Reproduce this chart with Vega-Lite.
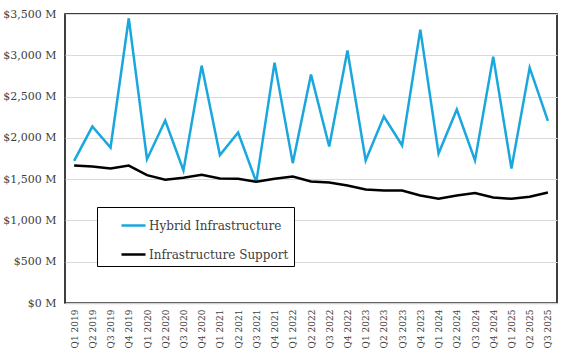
{
  "$schema": "https://vega.github.io/schema/vega-lite/v6.json",
  "width": 492,
  "height": 289,
  "autosize": {"type": "none"},
  "padding": {"left": 65, "top": 14, "right": 8, "bottom": 51},
  "background": "white",
  "config": {
    "view": {"stroke": "black", "strokeWidth": 1.5},
    "font": "DejaVu Serif"
  },
  "data": {
    "values": [
      {"q": "Q1 2019", "s": "Hybrid Infrastructure", "v": 1722},
      {"q": "Q2 2019", "s": "Hybrid Infrastructure", "v": 2137},
      {"q": "Q3 2019", "s": "Hybrid Infrastructure", "v": 1883},
      {"q": "Q4 2019", "s": "Hybrid Infrastructure", "v": 3448},
      {"q": "Q1 2020", "s": "Hybrid Infrastructure", "v": 1742},
      {"q": "Q2 2020", "s": "Hybrid Infrastructure", "v": 2210},
      {"q": "Q3 2020", "s": "Hybrid Infrastructure", "v": 1605},
      {"q": "Q4 2020", "s": "Hybrid Infrastructure", "v": 2875},
      {"q": "Q1 2021", "s": "Hybrid Infrastructure", "v": 1791},
      {"q": "Q2 2021", "s": "Hybrid Infrastructure", "v": 2064},
      {"q": "Q3 2021", "s": "Hybrid Infrastructure", "v": 1464},
      {"q": "Q4 2021", "s": "Hybrid Infrastructure", "v": 2911},
      {"q": "Q1 2022", "s": "Hybrid Infrastructure", "v": 1694},
      {"q": "Q2 2022", "s": "Hybrid Infrastructure", "v": 2766},
      {"q": "Q3 2022", "s": "Hybrid Infrastructure", "v": 1895},
      {"q": "Q4 2022", "s": "Hybrid Infrastructure", "v": 3057},
      {"q": "Q1 2023", "s": "Hybrid Infrastructure", "v": 1726},
      {"q": "Q2 2023", "s": "Hybrid Infrastructure", "v": 2258},
      {"q": "Q3 2023", "s": "Hybrid Infrastructure", "v": 1907},
      {"q": "Q4 2023", "s": "Hybrid Infrastructure", "v": 3311},
      {"q": "Q1 2024", "s": "Hybrid Infrastructure", "v": 1810},
      {"q": "Q2 2024", "s": "Hybrid Infrastructure", "v": 2343},
      {"q": "Q3 2024", "s": "Hybrid Infrastructure", "v": 1726},
      {"q": "Q4 2024", "s": "Hybrid Infrastructure", "v": 2984},
      {"q": "Q1 2025", "s": "Hybrid Infrastructure", "v": 1629},
      {"q": "Q2 2025", "s": "Hybrid Infrastructure", "v": 2851},
      {"q": "Q3 2025", "s": "Hybrid Infrastructure", "v": 2206},
      {"q": "Q1 2019", "s": "Infrastructure Support", "v": 1665},
      {"q": "Q2 2019", "s": "Infrastructure Support", "v": 1653},
      {"q": "Q3 2019", "s": "Infrastructure Support", "v": 1629},
      {"q": "Q4 2019", "s": "Infrastructure Support", "v": 1665},
      {"q": "Q1 2020", "s": "Infrastructure Support", "v": 1549},
      {"q": "Q2 2020", "s": "Infrastructure Support", "v": 1492},
      {"q": "Q3 2020", "s": "Infrastructure Support", "v": 1516},
      {"q": "Q4 2020", "s": "Infrastructure Support", "v": 1552},
      {"q": "Q1 2021", "s": "Infrastructure Support", "v": 1508},
      {"q": "Q2 2021", "s": "Infrastructure Support", "v": 1504},
      {"q": "Q3 2021", "s": "Infrastructure Support", "v": 1468},
      {"q": "Q4 2021", "s": "Infrastructure Support", "v": 1504},
      {"q": "Q1 2022", "s": "Infrastructure Support", "v": 1532},
      {"q": "Q2 2022", "s": "Infrastructure Support", "v": 1471},
      {"q": "Q3 2022", "s": "Infrastructure Support", "v": 1459},
      {"q": "Q4 2022", "s": "Infrastructure Support", "v": 1423},
      {"q": "Q1 2023", "s": "Infrastructure Support", "v": 1375},
      {"q": "Q2 2023", "s": "Infrastructure Support", "v": 1362},
      {"q": "Q3 2023", "s": "Infrastructure Support", "v": 1362},
      {"q": "Q4 2023", "s": "Infrastructure Support", "v": 1302},
      {"q": "Q1 2024", "s": "Infrastructure Support", "v": 1262},
      {"q": "Q2 2024", "s": "Infrastructure Support", "v": 1302},
      {"q": "Q3 2024", "s": "Infrastructure Support", "v": 1331},
      {"q": "Q4 2024", "s": "Infrastructure Support", "v": 1278},
      {"q": "Q1 2025", "s": "Infrastructure Support", "v": 1262},
      {"q": "Q2 2025", "s": "Infrastructure Support", "v": 1286},
      {"q": "Q3 2025", "s": "Infrastructure Support", "v": 1338}
    ]
  },
  "mark": {"type": "line", "strokeWidth": 2.5, "strokeJoin": "miter"},
  "encoding": {
    "x": {
      "field": "q",
      "type": "ordinal",
      "sort": null,
      "scale": {"type": "point", "padding": 0.5},
      "axis": {
        "title": null,
        "labelAngle": -90,
        "labelFont": "DejaVu Serif",
        "labelFontSize": 9,
        "labelColor": "#404040",
        "labelPadding": 6,
        "ticks": false,
        "domain": true,
        "domainColor": "#d0d0d0",
        "domainWidth": 1.5,
        "grid": false
      }
    },
    "y": {
      "field": "v",
      "type": "quantitative",
      "scale": {"domain": [0, 3500], "nice": false},
      "axis": {
        "title": null,
        "values": [0, 500, 1000, 1500, 2000, 2500, 3000, 3500],
        "labelExpr": "'$' + format(datum.value, ',') + ' M'",
        "labelFont": "DejaVu Serif",
        "labelFontSize": 11,
        "labelColor": "#404040",
        "labelPadding": 9,
        "ticks": false,
        "domain": false,
        "grid": true,
        "gridColor": "#d9d9d9",
        "gridWidth": 1
      }
    },
    "color": {
      "field": "s",
      "type": "nominal",
      "scale": {
        "domain": ["Hybrid Infrastructure", "Infrastructure Support"],
        "range": ["#1aa7de", "#000000"]
      },
      "legend": {
        "title": null,
        "orient": "none",
        "legendX": 32,
        "legendY": 193,
        "direction": "vertical",
        "strokeColor": "black",
        "fillColor": "white",
        "padding": 5,
        "symbolType": "stroke",
        "symbolSize": 576,
        "symbolStrokeWidth": 2.5,
        "symbolOffset": 18,
        "labelOffset": 2,
        "labelFont": "DejaVu Serif",
        "labelFontSize": 12,
        "labelColor": "#404040",
        "rowPadding": 9
      }
    }
  }
}
